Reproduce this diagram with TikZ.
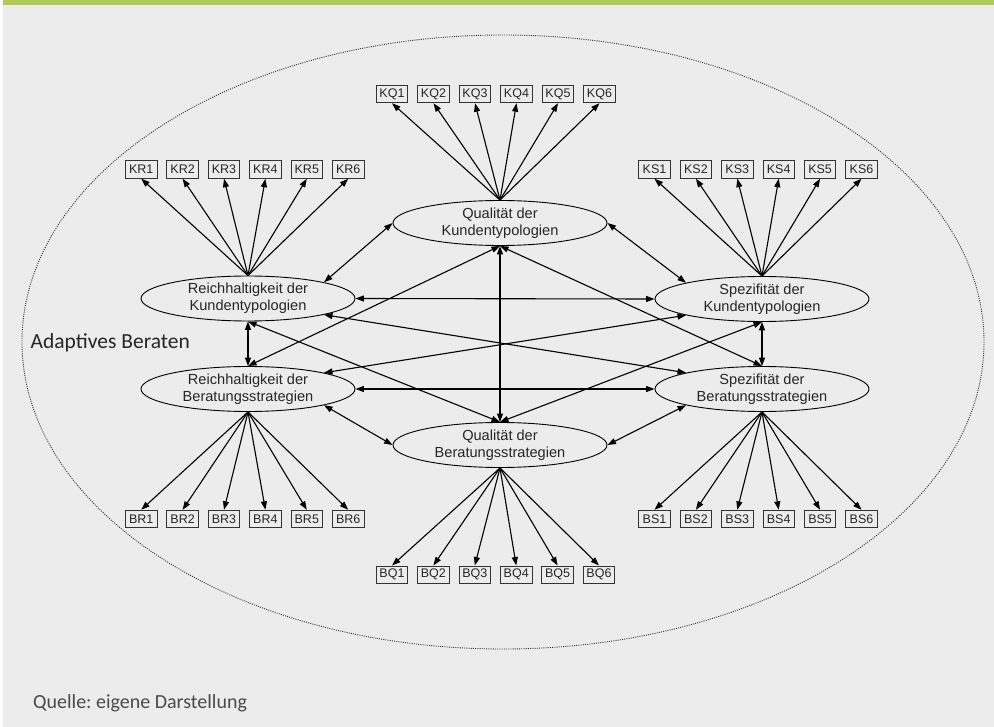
\documentclass[tikz,border=0pt]{standalone}
\usepackage{fontspec}
\setmainfont{Liberation Sans}
\newfontfamily\notefont{Carlito}
\usetikzlibrary{shapes.geometric,arrows.meta}
\definecolor{panelgray}{HTML}{ECECEC}
\definecolor{barGreen}{HTML}{AFCB53}
\definecolor{boxline}{HTML}{333333}
\definecolor{notegray}{HTML}{4A4A4A}
\frenchspacing

\begin{document}
\begin{tikzpicture}[x=1pt,y=-1pt,
  latent/.style={ellipse,draw=black,line width=0.9pt,minimum width=214pt,
    minimum height=45pt,inner sep=0pt,align=center,
    font=\fontsize{14.6}{16.7}\selectfont,text=black!85},
  indicator/.style={rectangle,draw=boxline,line width=0.8pt,minimum width=31.5pt,
    minimum height=17.6pt,inner sep=0pt,font=\fontsize{12.5}{14}\selectfont,text=black!85},
  load/.style={-{Triangle[length=8.5pt,width=6pt]},line width=1.1pt},
  cov/.style={{Triangle[length=8.5pt,width=6pt]}-{Triangle[length=8.5pt,width=6pt]},line width=1.1pt},
  caption/.style={anchor=base west,inner sep=0pt}]

% panel background with the green top bar
\useasboundingbox (0,0) rectangle (994,727);
\fill[white] (0,0) rectangle (994,727);
\fill[panelgray] (3,0) rectangle (994,727);
\fill[barGreen] (3,0) rectangle (994,5);

% dotted outer construct
\draw[dash pattern=on 1pt off 1.2pt,line width=0.9pt,black!80]
  (503,342) ellipse [x radius=481, y radius=307];

% latent constructs
\node[latent] (QK) at (500,223)   {Qualität der\\Kundentypologien};
\node[latent] (RK) at (248,298.5) {Reichhaltigkeit der\\Kundentypologien};
\node[latent] (SK) at (762,299)   {Spezifität der\\Kundentypologien};
\node[latent] (RB) at (248,389)   {Reichhaltigkeit der\\Beratungsstrategien};
\node[latent] (SB) at (762,389)   {Spezifität der\\Beratungsstrategien};
\node[latent] (QB) at (500,445)   {Qualität der\\Beratungsstrategien};

% indicators and loadings
\foreach \i in {1,...,6} {
  \node[indicator] (KQ\i) at ({392+41.5*(\i-1)},94)      {KQ\i};
  \node[indicator] (KR\i) at ({141.2+41.4*(\i-1)},169.5) {KR\i};
  \node[indicator] (KS\i) at ({654.5+41.4*(\i-1)},169.5) {KS\i};
  \node[indicator] (BR\i) at ({141.2+41.4*(\i-1)},519)   {BR\i};
  \node[indicator] (BS\i) at ({654.5+41.4*(\i-1)},519)   {BS\i};
  \node[indicator] (BQ\i) at ({392+41.4*(\i-1)},574.7)   {BQ\i};
  \draw[load] (QK.north) -- (KQ\i.south);
  \draw[load] (RK.north) -- (KR\i.south);
  \draw[load] (SK.north) -- (KS\i.south);
  \draw[load] (RB.south) -- (BR\i.north);
  \draw[load] (SB.south) -- (BS\i.north);
  \draw[load] (QB.south) -- (BQ\i.north);
}

% correlations between the constructs
\draw[cov] (QK.west) -- (RK.north east);
\draw[cov] (QK.east) -- (SK.north west);
\draw[cov] (QK.south) -- (QB.north);
\draw[cov] (QK.south) -- (RB.north);
\draw[cov] (QK.south) -- (SB.north);
\draw[cov] (RK.east) -- (SK.west);
\draw[cov] (RK.south) -- (RB.north);
\draw[cov] (RK.south east) -- (SB.north west);
\draw[cov] (RK.south) -- (QB.north);
\draw[cov] (SK.south) -- (SB.north);
\draw[cov] (SK.south west) -- (RB.north east);
\draw[cov] (SK.south) -- (QB.north);
\draw[cov] (RB.east) -- (SB.west);
\draw[cov] (RB.south east) -- (QB.west);
\draw[cov] (SB.south west) -- (QB.east);

% captions
\node[caption,font=\notefont\fontsize{21.5}{24}\selectfont,text=black!85] (title)
  at (30.5,348.3) {Adaptives Beraten};
\node[caption,font=\notefont\fontsize{20}{24}\selectfont,text=notegray] (source)
  at (33,708) {Quelle: eigene Darstellung};
\end{tikzpicture}
\end{document}
